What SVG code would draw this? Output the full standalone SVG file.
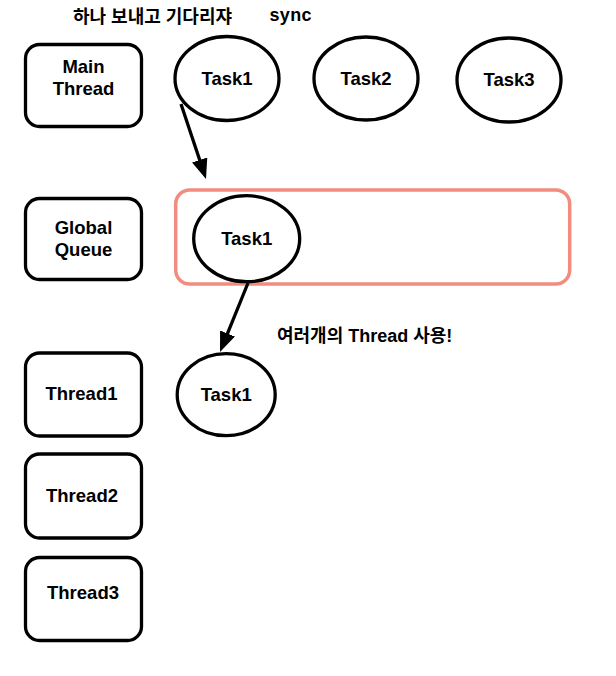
<svg xmlns="http://www.w3.org/2000/svg" width="616" height="676" viewBox="0 0 616 676">
<style>
.box{fill:#fff;stroke:#000;stroke-width:3.3}
.task{fill:#fff;stroke:#000;stroke-width:3.3}
.lbl{font-family:"Liberation Sans",Arial,sans-serif;font-weight:bold;font-size:18.5px;fill:#000;text-anchor:middle}
.kr{font-family:"Liberation Sans","Noto Sans CJK KR",sans-serif;font-weight:bold;font-size:18px;fill:#000}
.edge{stroke:#000;stroke-width:3.3;fill:none;marker-end:url(#ah)}
</style>
<defs>
<marker id="ah" markerUnits="userSpaceOnUse" markerWidth="20" markerHeight="16" refX="8" refY="8" orient="auto" viewBox="0 0 20 16">
<path d="M0,0 L20,8 L0,16 z" fill="#000"/>
</marker>
</defs>
<rect width="616" height="676" fill="#fff"/>
<g id="title">
<text class="kr" x="73" y="23">하나 보내고 기다리쟈</text>
<text class="kr" x="269.5" y="21" textLength="42">sync</text>
</g>
<g id="note">
<text class="kr" x="277" y="342">여러개의 Thread 사용!</text>
</g>
<g id="queue">
<rect x="175.7" y="190" width="394" height="94" rx="14" fill="#fff" stroke="#F28C7F" stroke-width="3.5"/>
</g>
<g id="main-thread">
<rect class="box" x="25.5" y="44.5" width="116" height="82" rx="14"/>
<text class="lbl" x="83.5" y="73">Main</text>
<text class="lbl" x="83.5" y="95">Thread</text>
</g>
<g id="global-queue">
<rect class="box" x="25.5" y="198.5" width="116" height="81" rx="14"/>
<text class="lbl" x="83.5" y="234">Global</text>
<text class="lbl" x="83.5" y="256">Queue</text>
</g>
<g id="thread1">
<rect class="box" x="25.5" y="353" width="116" height="83" rx="14"/>
<text class="lbl" x="81.5" y="400">Thread1</text>
</g>
<g id="thread2">
<rect class="box" x="25.5" y="454" width="116" height="84" rx="14"/>
<text class="lbl" x="82" y="502">Thread2</text>
</g>
<g id="thread3">
<rect class="box" x="25.5" y="557.5" width="116" height="83" rx="14"/>
<text class="lbl" x="83" y="599">Thread3</text>
</g>
<g id="task1-top">
<ellipse class="task" cx="227" cy="78.5" rx="52" ry="42"/>
<text class="lbl" x="227" y="85">Task1</text>
</g>
<g id="task2">
<ellipse class="task" cx="366" cy="78.5" rx="52" ry="41.5"/>
<text class="lbl" x="366" y="85">Task2</text>
</g>
<g id="task3">
<ellipse class="task" cx="509" cy="80" rx="52" ry="42"/>
<text class="lbl" x="509" y="86">Task3</text>
</g>
<g id="task1-queue">
<ellipse class="task" cx="246.7" cy="238.7" rx="53" ry="43"/>
<text class="lbl" x="246.7" y="245">Task1</text>
</g>
<g id="task1-thread">
<ellipse class="task" cx="226.2" cy="394.7" rx="49" ry="41"/>
<text class="lbl" x="226.2" y="401">Task1</text>
</g>
<g id="connectors">
<line class="edge" x1="181" y1="104" x2="202.2" y2="167.6"/>
<line class="edge" x1="248" y1="283" x2="224.5" y2="340.9"/>
</g>
</svg>
